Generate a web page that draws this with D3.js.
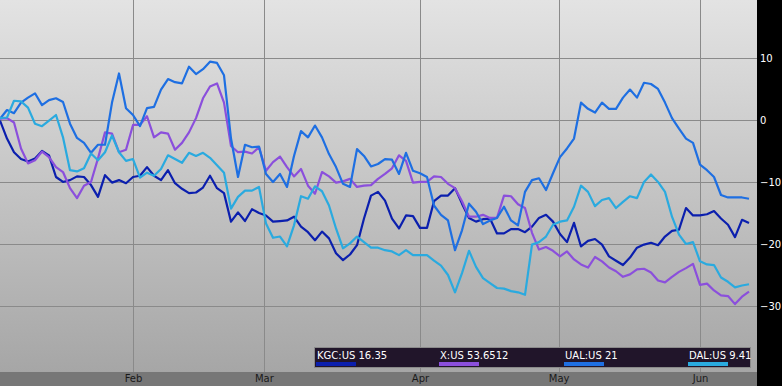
<!DOCTYPE html>
<html>
<head>
<meta charset="utf-8">
<script src="https://cdn.jsdelivr.net/npm/d3@7"></script>
<style>
  html, body { margin: 0; padding: 0; background: #000; overflow: hidden; }
  text { font-family: "DejaVu Sans", sans-serif; }
</style>
</head>
<body>
<div id="chart"></div>
<script>
// % change since start, one value per trading day
const kgc = [-0.1,-3.0,-5.2,-6.3,-6.7,-6.2,-5.0,-5.7,-9.2,-10.0,-9.7,-9.1,-9.2,-10.5,-12.4,-8.9,-10.1,-9.7,-10.2,
  -9.2,-9.0,-7.6,-9.0,-9.7,-8.1,-10.2,-11.1,-11.8,-11.7,-10.9,-9.0,-11.0,-11.8,-16.4,-14.9,-16.3,-14.4,-15.0,
  -15.4,-16.4,-16.3,-16.2,-15.6,-17.2,-18.1,-19.4,-18.0,-19.1,-21.5,-22.6,-21.7,-20.2,-15.9,-12.2,-11.6,-13.0,
  -15.9,-17.5,-15.4,-15.5,-17.4,-17.4,-13.1,-12.2,-12.2,-11.0,-13.5,-15.8,-16.4,-16.0,-15.9,-18.3,-18.3,-17.6,-17.6,
  -18.1,-17.2,-15.8,-15.3,-16.4,-18.4,-19.7,-16.6,-20.4,-19.5,-19.2,-20.1,-22.0,-22.7,-23.4,-22.2,-20.6,-20.1,-19.8,
  -20.2,-18.8,-17.9,-17.7,-14.2,-15.4,-15.4,-15.2,-14.7,-15.9,-16.9,-18.9,-16.1,-16.6];
const xus = [0.2,0.3,-0.4,-4.6,-7.0,-6.5,-5.1,-6.0,-7.6,-8.4,-11.0,-12.6,-10.6,-10.0,-6.2,-2.0,-2.2,-5.2,-4.8,
  -0.8,-0.8,0.6,-2.8,-2.0,-2.2,-4.8,-3.7,-2.0,0.3,3.5,5.4,5.9,2.8,-4.2,-5.2,-5.1,-5.4,-4.4,
  -8.2,-6.8,-5.9,-7.6,-9.1,-7.9,-10.6,-11.9,-8.4,-9.1,-10.1,-9.9,-9.5,-10.8,-10.6,-10.5,-9.5,-8.7,
  -7.8,-5.7,-6.6,-10.1,-10.0,-10.0,-9.1,-9.2,-10.3,-11.0,-13.1,-15.6,-15.6,-15.3,-15.8,-15.8,-12.2,-12.3,-13.6,
  -14.2,-18.2,-20.9,-20.5,-21.1,-22.0,-21.2,-22.5,-23.3,-23.8,-22.1,-22.8,-23.8,-24.4,-25.3,-24.9,-24.1,-24.0,-24.6,
  -25.9,-26.2,-25.3,-24.5,-23.9,-23.2,-26.6,-26.4,-27.5,-28.3,-28.4,-29.7,-28.5,-27.7];
const ual = [0.2,1.6,1.1,2.8,3.6,4.3,2.4,3.2,3.5,2.9,-0.6,-2.9,-3.7,-5.3,-4.0,-4.0,2.8,7.5,1.9,
  0.8,-1.0,1.9,2.1,4.9,6.6,6.1,5.9,8.6,7.4,8.2,9.4,9.2,7.2,-3.0,-9.2,-4.0,-4.4,-4.3,
  -8.7,-10.0,-8.7,-10.8,-5.8,-1.8,-2.8,-0.9,-2.8,-5.5,-7.6,-10.3,-10.8,-4.7,-5.8,-7.5,-7.1,-6.3,
  -6.4,-8.7,-5.3,-8.2,-8.6,-9.2,-13.8,-15.3,-16.2,-21.0,-17.8,-13.5,-14.8,-16.8,-16.2,-15.8,-14.0,-16.2,-17.0,
  -11.6,-9.7,-9.4,-11.3,-8.6,-6.0,-4.6,-3.0,2.8,1.8,1.2,2.8,1.8,1.8,3.6,4.9,3.6,6.0,5.8,
  5.0,2.8,0.3,-1.4,-3.0,-3.7,-7.2,-8.1,-9.2,-12.1,-12.5,-12.5,-12.5,-12.7];
const dal = [0.3,0.4,3.1,3.0,2.0,-0.6,-1.0,-0.1,0.8,-2.8,-8.1,-8.3,-7.8,-5.4,-6.5,-5.2,-2.5,-5.2,-6.6,
  -6.3,-9.3,-8.5,-9.0,-7.9,-5.7,-6.3,-6.9,-5.3,-5.8,-5.3,-6.1,-7.3,-8.5,-14.3,-12.4,-11.4,-11.4,-10.8,
  -16.7,-19.0,-18.8,-20.4,-17.0,-12.3,-12.7,-10.7,-11.5,-13.8,-17.5,-20.7,-19.9,-18.8,-19.7,-20.6,-20.6,-21.0,
  -21.2,-21.8,-21.0,-21.8,-21.8,-21.8,-22.7,-23.5,-25.0,-27.8,-24.7,-21.1,-23.7,-25.5,-26.3,-27.1,-27.2,-27.6,-27.8,
  -28.2,-20.1,-19.7,-18.8,-16.9,-16.4,-16.2,-14.0,-10.6,-11.6,-13.9,-12.9,-12.6,-14.2,-13.2,-12.3,-12.6,-10.0,-8.8,
  -10.0,-11.6,-15.6,-18.5,-20.0,-19.7,-22.8,-23.3,-23.4,-25.4,-26.1,-27.0,-26.7,-26.5];

const seriesNames = ["KGC:US 16.35", "X:US 53.6512", "UAL:US 21", "DAL:US 9.41"];
const seriesColors = ["#0b1fae", "#8b4fdc", "#1e6fe2", "#2aaadf"];
const seriesData = [kgc, xus, ual, dal];

const monthLabels = ["Feb", "Mar", "Apr", "May", "Jun"];
const monthIndex = [19, 37.7, 60, 79.8, 100];   // first trading day of each month
const yTicks = [10, 0, -10, -20, -30];

const W = 782, H = 386;
const plotW = 757, plotH = 372;

const svg = d3.select("#chart").append("svg")
    .attr("width", W)
    .attr("height", H);

const defs = svg.append("defs");
const grad = defs.append("linearGradient")
    .attr("id", "bg").attr("x1", 0).attr("y1", 0).attr("x2", 0).attr("y2", 1);
grad.append("stop").attr("offset", "0%").attr("stop-color", "#e3e3e3");
grad.append("stop").attr("offset", "100%").attr("stop-color", "#a6a6a6");

// background
svg.append("rect").attr("width", W).attr("height", H).attr("fill", "#000");
svg.append("rect").attr("width", plotW).attr("height", plotH).attr("fill", "url(#bg)");
svg.append("rect").attr("y", plotH).attr("width", plotW).attr("height", H - plotH).attr("fill", "#777");

const x = d3.scaleLinear().domain([0, kgc.length - 1]).range([0, 749]);
const y = d3.scaleLinear().domain([-40.65, 19.35]).range([plotH, 0]);

// gridlines
svg.append("g")
  .selectAll("line")
  .data(yTicks)
  .join("line")
    .attr("x1", 0).attr("x2", plotW)
    .attr("y1", d => Math.round(y(d)) + 0.5).attr("y2", d => Math.round(y(d)) + 0.5)
    .attr("stroke", "#8a8a8a").attr("stroke-width", 1.2);

svg.append("g")
  .selectAll("line")
  .data(monthIndex)
  .join("line")
    .attr("x1", d => Math.round(x(d)) + 0.5).attr("x2", d => Math.round(x(d)) + 0.5)
    .attr("y1", 0).attr("y2", plotH)
    .attr("stroke", "#8a8a8a").attr("stroke-width", 1);

// right axis
const yAxis = svg.append("g")
    .attr("transform", `translate(${plotW},0)`)
    .call(d3.axisRight(y).tickValues(yTicks).tickSize(0).tickPadding(3));
yAxis.select(".domain").remove();
yAxis.selectAll("text")
    .attr("fill", "#fff")
    .style("font-size", "10px")
    .style("font-family", "DejaVu Sans, sans-serif");

// bottom axis
const xAxis = svg.append("g")
    .attr("transform", `translate(0,${plotH})`)
    .call(d3.axisBottom(x).tickValues(monthIndex).tickFormat((d, i) => monthLabels[i]).tickSize(0).tickPadding(3));
xAxis.select(".domain").remove();
xAxis.selectAll("text")
    .attr("fill", "#1a1a1a")
    .style("font-size", "10px")
    .style("font-family", "DejaVu Sans, sans-serif");

// lines
const line = d3.line()
    .x((d, i) => x(i))
    .y(d => y(d));

svg.append("g")
  .selectAll("path")
  .data(seriesData)
  .join("path")
    .attr("d", d => line(d))
    .attr("fill", "none")
    .attr("stroke", (d, i) => seriesColors[i])
    .attr("stroke-width", 2.2)
    .attr("stroke-linejoin", "round");

// legend
const legend = svg.append("g").attr("transform", "translate(314,347)");
legend.append("rect")
    .attr("x", 0.5).attr("y", 0.5)
    .attr("width", 436).attr("height", 20)
    .attr("fill", "#21152a")
    .attr("stroke", "#8a8a8a");

const legendX = [2, 125, 250, 374];
const item = legend.selectAll("g.item")
  .data(seriesNames)
  .join("g")
    .attr("class", "item")
    .attr("transform", (d, i) => `translate(${legendX[i]},0)`);

item.append("text")
    .attr("x", 1).attr("y", 12)
    .attr("fill", "#fff")
    .style("font-size", "10px")
    .text(d => d);

item.append("rect")
    .attr("x", 0).attr("y", 15)
    .attr("width", 40).attr("height", 4)
    .attr("fill", (d, i) => seriesColors[i]);
</script>
</body>
</html>
